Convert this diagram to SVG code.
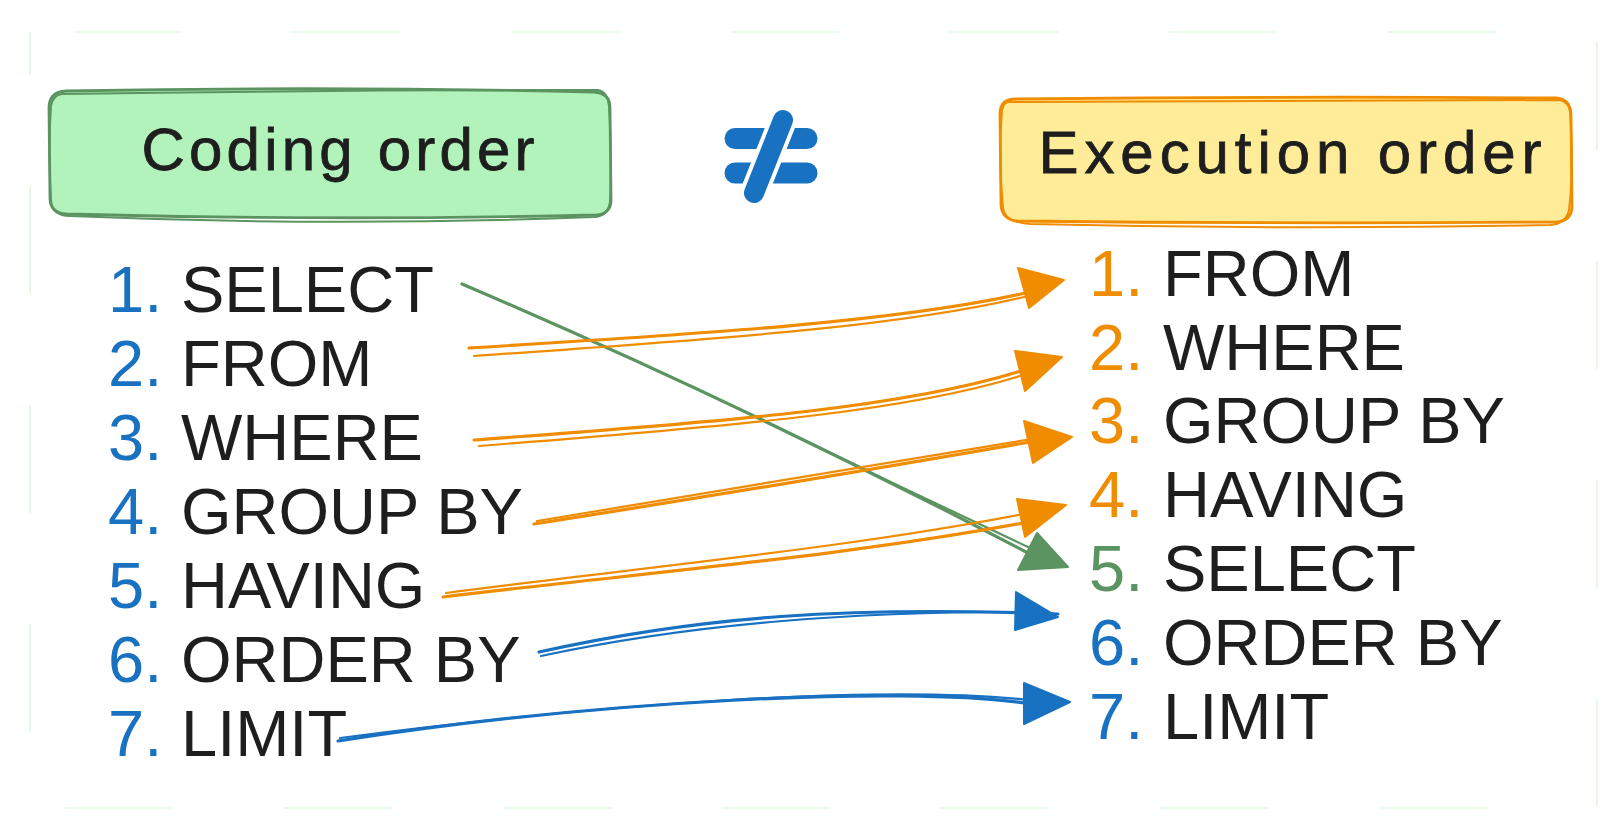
<svg xmlns="http://www.w3.org/2000/svg" width="1624" height="836" viewBox="0 0 1624 836">
  <style>
    .hand { font-family: "Liberation Sans", Arial, sans-serif; font-size: 60px; fill: #1e1e1e; stroke: #1e1e1e; stroke-width: 0.8; }
    .item { font-family: "Liberation Sans", Arial, sans-serif; font-size: 65px; fill: #1e1e1e; }
    .blue { fill: #1971c2; }
    .orange { fill: #f08c00; }
    .green { fill: #5b9461; }
    .ln { fill: none; stroke-linecap: round; stroke-linejoin: round; stroke-width: 3.2; }
    .ln2 { fill: none; stroke-linecap: round; stroke-linejoin: round; stroke-width: 2.2; }
    .so { stroke: #f08c00; }
    .sb { stroke: #1971c2; }
    .sg { stroke: #5b9461; }
    .head { stroke-width: 2; stroke-linejoin: round; }
  </style>

  <rect id="frame" x="30" y="32" width="1567" height="776" fill="none" stroke="#b2f2bb" stroke-width="1.2" stroke-dasharray="108 111" stroke-dashoffset="-44" opacity="0.6"/>

  <g id="coding-order">
    <rect x="50" y="90" width="560" height="126" rx="16" fill="#b2f2bb"/>
    <path d="M66,91 Q330,86 594,92 Q610,93 610,108 L611,200 Q611,214 596,215 Q330,221 66,214 Q50,213 50,198 L49,108 Q49,92 66,91 Z" fill="none" stroke="#5b9461" stroke-width="2.8"/>
    <path d="M62,94 Q330,90 598,90 Q608,92 609,106 Q612,160 610,202 Q608,216 594,217 Q330,227 70,216 Q52,216 51,200 Q48,150 51,106 Q53,95 62,94" fill="none" stroke="#5b9461" stroke-width="2"/>
    <text class="hand" x="338" y="170" text-anchor="middle" textLength="393" lengthAdjust="spacing">Coding order</text>
  </g>

  <g id="not-equal">
    <line x1="735" y1="138.5" x2="807" y2="138.5" stroke="#1971c2" stroke-width="21" stroke-linecap="round"/>
    <line x1="735" y1="173" x2="807" y2="173" stroke="#1971c2" stroke-width="21" stroke-linecap="round"/>
    <line x1="783" y1="120" x2="754" y2="193" stroke="#ffffff" stroke-width="28" stroke-linecap="round"/>
    <line x1="783" y1="120" x2="754" y2="193" stroke="#1971c2" stroke-width="20" stroke-linecap="round"/>
  </g>

  <g id="execution-order">
    <rect x="1001" y="98" width="570" height="125" rx="16" fill="#ffec99"/>
    <path d="M1016,99 Q1290,96 1556,98 Q1570,99 1571,114 L1572,206 Q1572,221 1556,222 Q1290,224 1018,221 Q1002,220 1001,205 L1000,114 Q1000,99 1016,99 Z" fill="none" stroke="#f08c00" stroke-width="2.8"/>
    <path d="M1010,102 Q1290,100 1560,100 Q1569,102 1570,112 Q1574,170 1569,210 Q1566,224 1550,225 Q1290,230 1030,224 Q1004,222 1003,208 Q998,160 1002,110 Q1004,101 1010,102" fill="none" stroke="#f08c00" stroke-width="2"/>
    <text class="hand" x="1290" y="173" text-anchor="middle" textLength="503" lengthAdjust="spacing">Execution order</text>
  </g>

  <g id="coding-list">
    <g id="c1"><text class="item blue" x="108" y="312">1.</text><text class="item" x="181" y="312">SELECT</text></g>
    <g id="c2"><text class="item blue" x="108" y="386">2.</text><text class="item" x="181" y="386">FROM</text></g>
    <g id="c3"><text class="item blue" x="108" y="460">3.</text><text class="item" x="181" y="460">WHERE</text></g>
    <g id="c4"><text class="item blue" x="108" y="534">4.</text><text class="item" x="181" y="534">GROUP BY</text></g>
    <g id="c5"><text class="item blue" x="108" y="608">5.</text><text class="item" x="181" y="608">HAVING</text></g>
    <g id="c6"><text class="item blue" x="108" y="682">6.</text><text class="item" x="181" y="682">ORDER BY</text></g>
    <g id="c7"><text class="item blue" x="108" y="756">7.</text><text class="item" x="181" y="756">LIMIT</text></g>
  </g>

  <g id="execution-list">
    <g id="e1"><text class="item orange" x="1089" y="296">1.</text><text class="item" x="1163" y="296">FROM</text></g>
    <g id="e2"><text class="item orange" x="1089" y="370">2.</text><text class="item" x="1163" y="370">WHERE</text></g>
    <g id="e3"><text class="item orange" x="1089" y="443">3.</text><text class="item" x="1163" y="443">GROUP BY</text></g>
    <g id="e4"><text class="item orange" x="1089" y="517">4.</text><text class="item" x="1163" y="517">HAVING</text></g>
    <g id="e5"><text class="item green" x="1089" y="591">5.</text><text class="item" x="1163" y="591">SELECT</text></g>
    <g id="e6"><text class="item blue" x="1089" y="665">6.</text><text class="item" x="1163" y="665">ORDER BY</text></g>
    <g id="e7"><text class="item blue" x="1089" y="739">7.</text><text class="item" x="1163" y="739">LIMIT</text></g>
  </g>

  <g id="connectors">
    <!-- SELECT -> 5 -->
    <path class="ln sg" d="M462,284 Q745,405 1028,553"/>
    <path class="ln2 sg" d="M840,458 Q940,505 1030,548"/>
    <polygon class="head sg green" points="1037,533 1068,567 1018,570"/>

    <!-- FROM -> 1 -->
    <path class="ln so" d="M469,348 C700,334 900,322 1030,292"/>
    <path class="ln2 so" d="M474,356 C700,340 900,328 1032,295"/>
    <polygon class="head so orange" points="1018,268 1064,280 1029,308"/>

    <!-- WHERE -> 2 -->
    <path class="ln so" d="M474,440 C700,423 900,410 1024,370"/>
    <path class="ln2 so" d="M479,446 C700,428 905,414 1026,374"/>
    <polygon class="head so orange" points="1015,351 1062,357 1025,391"/>

    <!-- GROUP BY -> 3 -->
    <path class="ln so" d="M534,524 Q800,482 1030,442"/>
    <path class="ln2 so" d="M537,521 Q800,478 1032,439"/>
    <polygon class="head so orange" points="1024,421 1072,437 1033,463"/>

    <!-- HAVING -> 4 -->
    <path class="ln so" d="M443,597 C650,572 850,556 1034,521"/>
    <path class="ln2 so" d="M446,593 C650,566 860,548 1064,506"/>
    <polygon class="head so orange" points="1017,499 1066,505 1025,537"/>

    <!-- ORDER BY -> 6 -->
    <path class="ln sb" d="M539,652 C700,616 850,606 1058,614"/>
    <path class="ln2 sb" d="M541,656 C700,622 860,612 1016,612"/>
    <polygon class="head sb blue" points="1016,592 1058,617 1015,630"/>

    <!-- LIMIT -> 7 -->
    <path class="ln sb" d="M338,741 C600,700 900,686 1024,703"/>
    <path class="ln2 sb" d="M340,738 C600,704 880,684 1030,700"/>
    <polygon class="head sb blue" points="1024,683 1070,702 1024,724"/>
  </g>
</svg>
